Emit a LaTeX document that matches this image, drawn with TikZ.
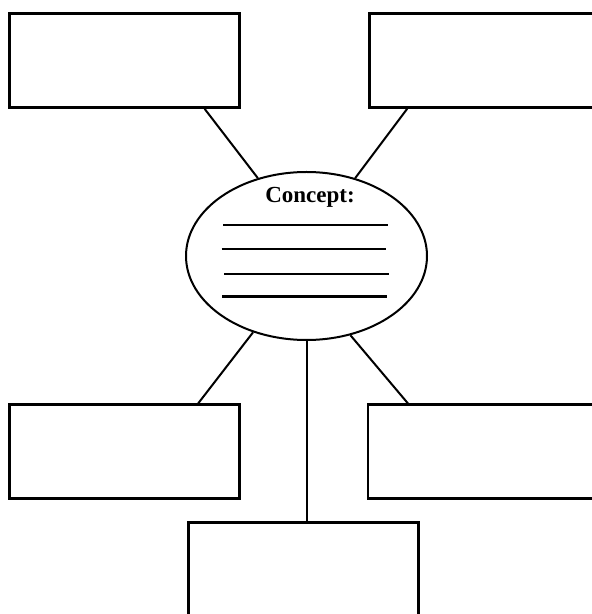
\documentclass[tikz,border=0pt]{standalone}
\usepackage{fontspec}
\setmainfont{Liberation Serif}
\usetikzlibrary{shapes.geometric,calc}
\begin{document}
\begin{tikzpicture}[x=1pt,y=1pt,
  box/.style={draw=black,line width=2.6pt,rectangle,inner sep=0pt,minimum width=230pt,minimum height=94pt},
  oval/.style={draw=black,line width=2pt,ellipse,inner sep=0pt,minimum width=241pt,minimum height=168pt},
  link/.style={line width=2pt},
  rule/.style={line width=2.4pt}]
\useasboundingbox (0,0) rectangle (592,614);
\clip (0,0) rectangle (592,614);
\node[box] (tl) at (124.3,553.5) {};
\node[box] (tr) at (484.5,553.5) {};
\node[box] (bl) at (124.6,162.2) {};
\node[box] (br) at (482.8,162.2) {};
\node[box] (bot) at (303.2,44.4) {};
\node[oval] (concept) at (306.5,358) {};
\node[anchor=base,font=\fontsize{23}{26}\selectfont\bfseries] (label) at (310,411) {Concept:};
\draw[rule] (223.3,389) -- (387.7,389);
\draw[rule] (221.7,364.7) -- (385.7,364.7);
\draw[rule] (224.3,340) -- (389,340);
\draw[rule] (222.3,317.3) -- (386.7,317.3);
\draw[link] (concept.122.3) -- ([xshift=-36pt]tl.south east);
\draw[link] (concept.58.8) -- ([xshift=39pt]tr.south west);
\draw[link] (concept.235.3) -- ([xshift=-42.8pt]bl.north east);
\draw[link] (concept.299.6) -- ([xshift=41.5pt]br.north west);
\draw[link] (concept.south) -- (concept.south |- bot.north);
\end{tikzpicture}
\end{document}
